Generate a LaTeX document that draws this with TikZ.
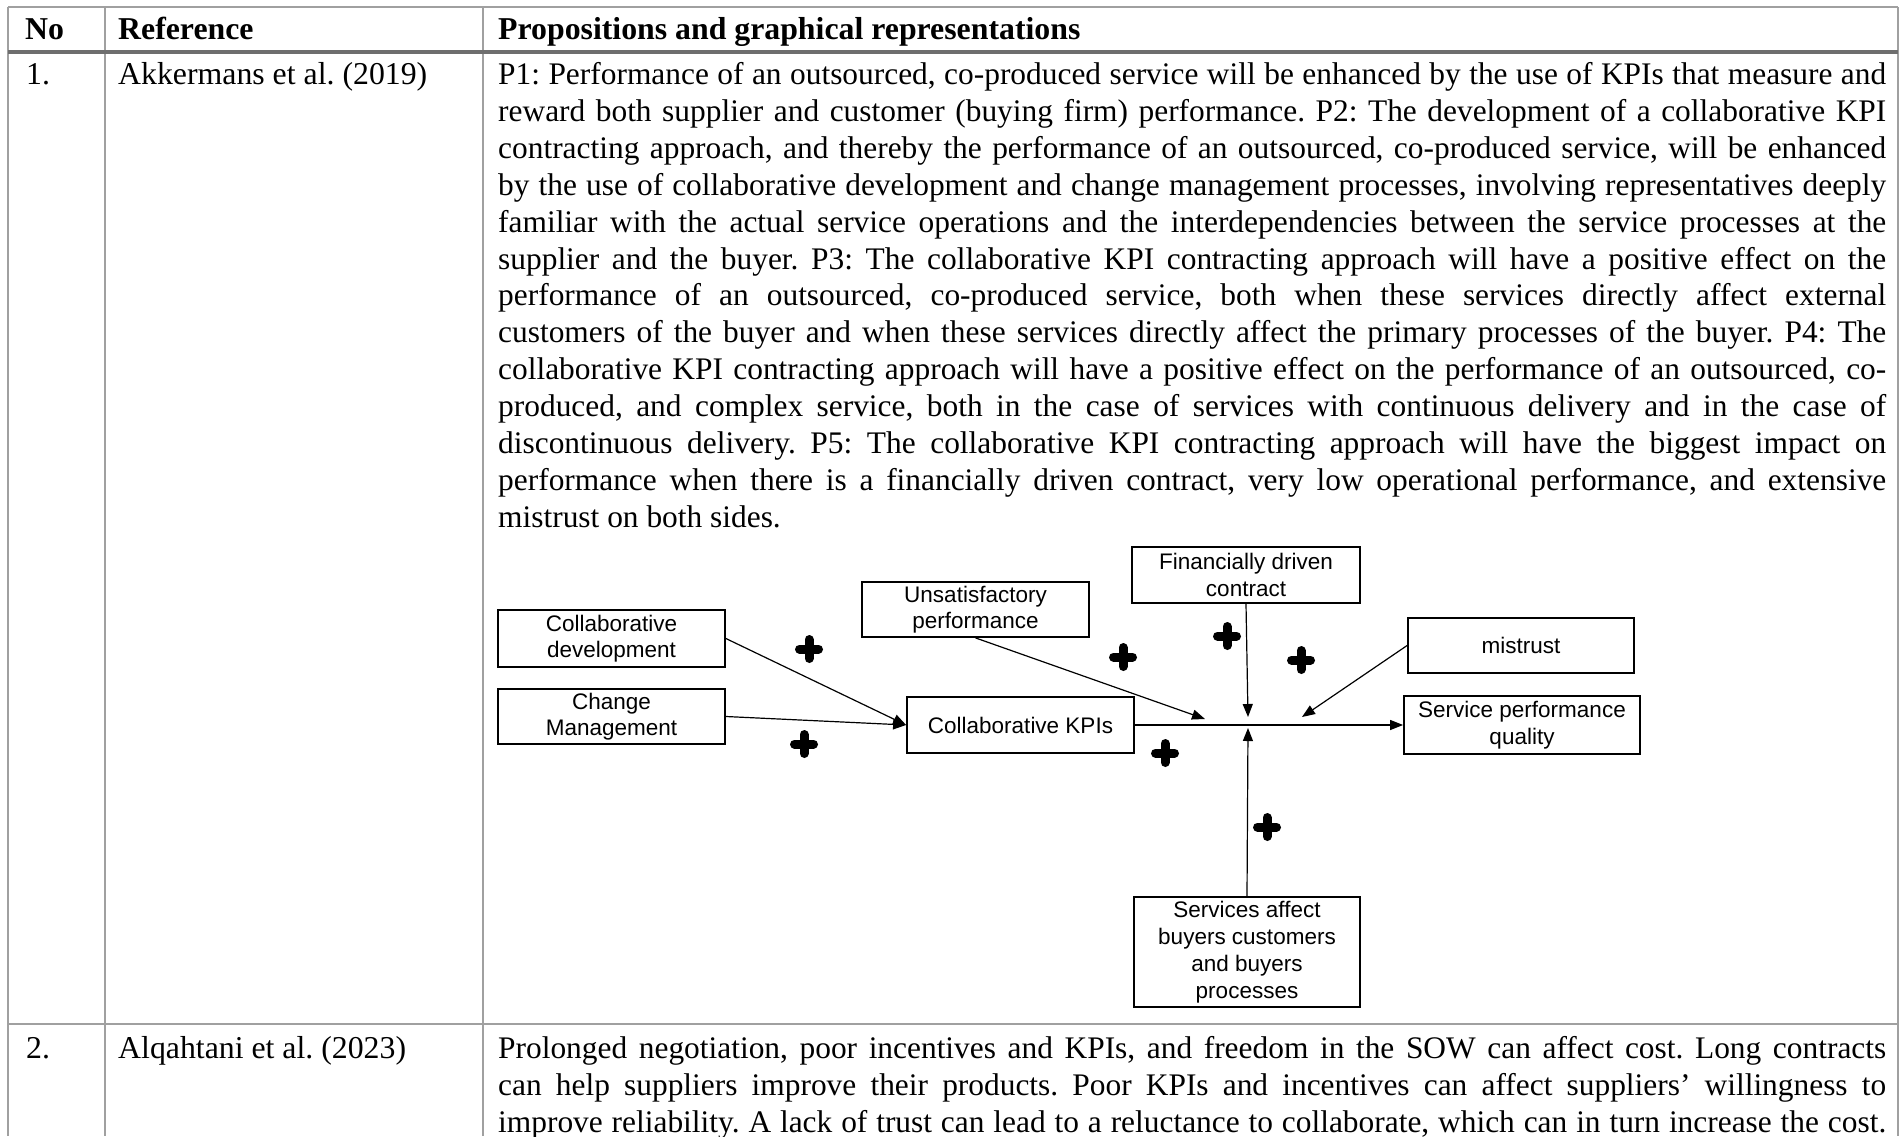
\documentclass[tikz,border=0pt]{standalone}
\usepackage{fontspec}
\setmainfont{Liberation Serif}
\newfontfamily\diagfont{Liberation Sans}
\usetikzlibrary{arrows.meta}

\definecolor{tablegray}{HTML}{A0A0A0}
\definecolor{headgray}{HTML}{6E6E6E}

\frenchspacing
\tolerance=9999
\hbadness=10000

\begin{document}
\begin{tikzpicture}[x=1pt,y=-1pt,
  rule/.style={draw=tablegray, line width=1.8pt},
  headrule/.style={draw=headgray, line width=4pt},
  celltext/.style={anchor=base west, inner sep=0pt, font=\fontsize{31.8}{36.9}\selectfont},
  headtext/.style={celltext, font=\fontsize{31.8}{36.9}\selectfont\bfseries},
  para/.style={anchor=base west, inner sep=0pt, text width=1388pt, align=justify,
    font=\fontsize{31.4}{36.9}\selectfont},
  factor/.style={draw, line width=1.8pt, inner sep=0pt, align=center,
    font=\diagfont\fontsize{22.5}{26.5}\selectfont},
  link/.style={line width=1.2pt, -{Triangle[length=13pt,width=10pt]}},
  plus/.style={inner sep=0pt, minimum size=30pt,
    path picture={
      \draw[line width=9pt, line cap=round]
        ([xshift=-9.5pt]path picture bounding box.center) --
        ([xshift=9.5pt]path picture bounding box.center);
      \draw[line width=9pt, line cap=round]
        ([yshift=-9.5pt]path picture bounding box.center) --
        ([yshift=9.5pt]path picture bounding box.center);}}
]
% page
\fill[white] (0,0) rectangle (1901,1136);
\useasboundingbox (0,0) rectangle (1901,1136);

% table rules
\draw[rule] (8,7) -- (1898,7);
\draw[rule] (8,1024) -- (1898,1024);
\draw[rule] (8,7) -- (8,1136);
\draw[rule] (105,7) -- (105,1136);
\draw[rule] (483,7) -- (483,1136);
\draw[rule] (1898,7) -- (1898,1136);
\draw[headrule] (8,52) -- (1898,52);

% header row
\node[headtext] (hno) at (25,39) {No};
\node[headtext] (href) at (118,39) {Reference};
\node[headtext] (hprop) at (498,39) {Propositions and graphical representations};

% row 1
\node[celltext] (n1) at (26,84.5) {1.};
\node[celltext] (r1) at (118,84.5) {Akkermans et al. (2019)};
\node[para] (t1) at (498,84.5) {%
P1: Performance of an outsourced, co-produced service will be enhanced by the use of KPIs that measure and\linebreak
reward both supplier and customer (buying firm) performance. P2: The development of a collaborative KPI\linebreak
contracting approach, and thereby the performance of an outsourced, co-produced service, will be enhanced\linebreak
by the use of collaborative development and change management processes, involving representatives deeply\linebreak
familiar with the actual service operations and the interdependencies between the service processes at the\linebreak
supplier and the buyer. P3: The collaborative KPI contracting approach will have a positive effect on the\linebreak
performance of an outsourced, co-produced service, both when these services directly affect external\linebreak
customers of the buyer and when these services directly affect the primary processes of the buyer. P4: The\linebreak
collaborative KPI contracting approach will have a positive effect on the performance of an outsourced, co-\linebreak
produced, and complex service, both in the case of services with continuous delivery and in the case of\linebreak
discontinuous delivery. P5: The collaborative KPI contracting approach will have the biggest impact on\linebreak
performance when there is a financially driven contract, very low operational performance, and extensive\linebreak
mistrust on both sides.};

% row 1 diagram: factor boxes
\node[factor, minimum width=227pt, minimum height=57pt] (cd) at (611.5,638.5) {Collaborative\\development};
\node[factor, minimum width=227pt, minimum height=55pt] (cm) at (611.5,716.5) {Change\\Management};
\node[factor, minimum width=227pt, minimum height=55pt] (up) at (975.5,609.5) {Unsatisfactory\\performance};
\node[factor, minimum width=228pt, minimum height=56pt] (fd) at (1246,575) {Financially driven\\contract};
\node[factor, minimum width=226pt, minimum height=55pt] (mt) at (1521,645.5) {mistrust};
\node[factor, minimum width=227pt, minimum height=56pt] (kpi) at (1020.5,725) {Collaborative KPIs};
\node[factor, minimum width=236pt, minimum height=58pt] (spq) at (1522,725) {Service performance\\quality};
\node[factor, minimum width=226pt, minimum height=110pt,
  font=\diagfont\fontsize{22.5}{27.1}\selectfont] (sa) at (1247,952)
  {Services affect\\buyers customers\\and buyers\\processes};

% points where the moderators meet the main path
\coordinate (jU) at (1205,719);
\coordinate (jF) at (1248,717);
\coordinate (jM) at (1302,717);
\coordinate (jS) at (1248,728);

% connectors
\draw[link] (cd.east) -- (kpi.west);
\draw[link] (cm.east) -- (kpi.west);
\draw[link] (kpi.east) -- (spq.west);
\draw[link] (up.south) -- (jU);
\draw[link] (fd.south) -- (jF);
\draw[link] (mt.west) -- (jM);
\draw[link] (sa.north) -- (jS);

% positive-effect signs
\node[plus] (s1) at (809,649) {};
\node[plus] (s2) at (804,744) {};
\node[plus] (s3) at (1123,657) {};
\node[plus] (s4) at (1227,636) {};
\node[plus] (s5) at (1301,660) {};
\node[plus] (s6) at (1165,753) {};
\node[plus] (s7) at (1267,827) {};

% row 2
\node[celltext] (n2) at (26,1058.5) {2.};
\node[celltext] (r2) at (118,1058.5) {Alqahtani et al. (2023)};
\node[para] (t2) at (498,1058.5) {%
Prolonged negotiation, poor incentives and KPIs, and freedom in the SOW can affect cost. Long contracts\linebreak
can help suppliers improve their products. Poor KPIs and incentives can affect suppliers’ willingness to\linebreak
improve reliability. A lack of trust can lead to a reluctance to collaborate, which can in turn increase the cost.\linebreak};
\end{tikzpicture}
\end{document}
